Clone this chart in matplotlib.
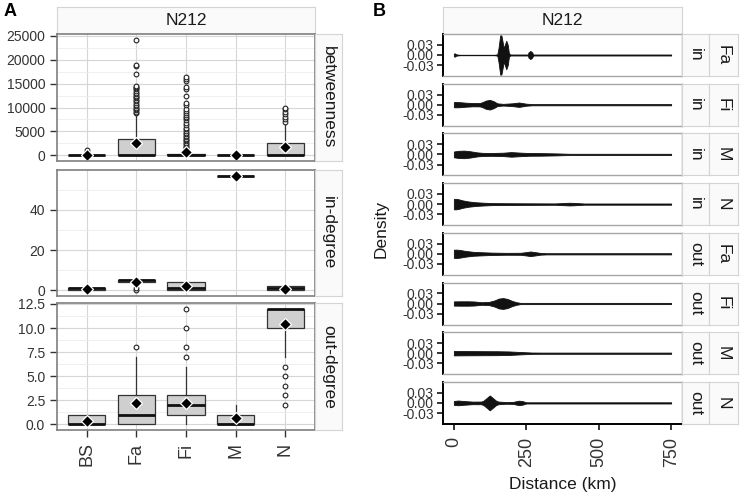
import numpy as np
import matplotlib
matplotlib.use("Agg")
import matplotlib.pyplot as plt

plt.rcParams["font.family"] = ["Liberation Sans", "DejaVu Sans"]

# ---- panel A: box plot summaries per group ----
groups = ["BS", "Fa", "Fi", "M", "N"]
metrics = ["betweenness", "in-degree", "out-degree"]

# betweenness: q1, median, q3, whisker low, whisker high, mean
btw_q1 = [0, 0, 0, 0, 0]
btw_med = [0, 0, 50, 0, 0]
btw_q3 = [50, 3450, 250, 0, 2650]
btw_lo = [0, 0, 0, 0, 0]
btw_hi = [100, 8600, 600, 0, 6800]
btw_mean = [150, 2650, 700, 0, 1700]
btw_out = [
    [700, 1100],
    [8900, 9100, 9400, 9600, 9900, 10300, 10600, 10900, 11300, 11600, 11900,
     12200, 12500, 12800, 13100, 13400, 13800, 14100, 14300, 14600, 17000,
     18700, 19000, 24200],
    [1000, 1250, 1500, 1750, 2000, 2300, 2600, 2900, 3200, 3500, 3800, 4100,
     4400, 4700, 5000, 5400, 5800, 6300, 6800, 7300, 7700, 8100, 8500, 8900,
     9300, 9700, 10600, 11000, 12400, 13900, 14200, 15500, 15900, 16300],
    [],
    [7000, 7500, 8050, 8600, 9100, 9600, 9900],
]

indeg_q1 = [0, 4, 0, 57, 0]
indeg_med = [1, 5, 1, 57, 1]
indeg_q3 = [1, 5, 4, 57, 2]
indeg_lo = [0, 4, 0, 57, 0]
indeg_hi = [1, 5, 4, 57, 2]
indeg_mean = [0.7, 4.2, 2.0, 57, 0.7]
indeg_out = [[], [0, 1], [], [], []]

outdeg_q1 = [0, 0, 1, 0, 10]
outdeg_med = [0, 1, 2, 0, 12]
outdeg_q3 = [1, 3, 3, 1, 12]
outdeg_lo = [0, 0, 0, 0, 7]
outdeg_hi = [1, 7, 6, 2, 12]
outdeg_mean = [0.38, 2.2, 2.25, 0.6, 10.45]
outdeg_out = [[], [8], [7, 8, 10, 12], [], [2, 3, 4, 5, 6]]

btw_ticks = [0, 5000, 10000, 15000, 20000, 25000]
indeg_ticks = [0, 20, 40]
outdeg_ticks = [0.0, 2.5, 5.0, 7.5, 10.0, 12.5]
outdeg_labels = ["0.0", "2.5", "5.0", "7.5", "10.0", "12.5"]

# ---- panel B: violin outlines (distance km, half width) ----
direction = ["in", "in", "in", "in", "out", "out", "out", "out"]
species = ["Fa", "Fi", "M", "N", "Fa", "Fi", "M", "N"]
viol_km = [
    [0, 3, 8, 20, 140, 150, 154, 160, 164, 168, 172, 176, 181, 186, 190, 195,
     255, 258, 264, 270, 274, 750],
    [0, 5, 20, 40, 65, 90, 100, 110, 124, 138, 150, 170, 200, 225, 250, 270, 750],
    [0, 15, 35, 55, 80, 100, 130, 170, 198, 230, 260, 300, 350, 400, 750],
    [0, 5, 15, 30, 50, 75, 100, 130, 200, 350, 385, 400, 415, 450, 750],
    [0, 8, 20, 40, 67, 100, 130, 180, 230, 250, 264, 280, 300, 320, 750],
    [0, 20, 50, 70, 95, 120, 140, 155, 170, 185, 200, 215, 230, 750],
    [0, 50, 100, 150, 190, 230, 270, 300, 750],
    [0, 15, 35, 65, 95, 103, 124, 145, 153, 180, 205, 215, 225, 238, 250, 750],
]
viol_w = [
    [0.004, 0.005, 0.002, 0.0007, 0.0007, 0.002, 0.02, 0.058, 0.058, 0.04,
     0.02, 0.03, 0.042, 0.03, 0.005, 0.0015, 0.0015, 0.008, 0.012, 0.008,
     0.0015, 0.0015],
    [0.0075, 0.0078, 0.0075, 0.006, 0.0048, 0.005, 0.008, 0.012, 0.0143, 0.01,
     0.004, 0.0025, 0.004, 0.0065, 0.003, 0.0018, 0.0018],
    [0.0085, 0.0105, 0.0112, 0.0095, 0.006, 0.0045, 0.0042, 0.005, 0.0068,
     0.0052, 0.004, 0.0038, 0.003, 0.0018, 0.0018],
    [0.015, 0.0157, 0.0145, 0.011, 0.0078, 0.0055, 0.0042, 0.003, 0.0025,
     0.002, 0.0035, 0.004, 0.0035, 0.0018, 0.0018],
    [0.012, 0.0124, 0.0115, 0.0085, 0.0058, 0.0045, 0.0035, 0.0028, 0.003,
     0.005, 0.0068, 0.005, 0.0025, 0.0018, 0.0018],
    [0.0062, 0.0065, 0.0065, 0.006, 0.0038, 0.0045, 0.009, 0.0145, 0.016,
     0.0135, 0.008, 0.004, 0.0018, 0.0018],
    [0.0065, 0.0062, 0.006, 0.0058, 0.0052, 0.0035, 0.002, 0.0018, 0.0018],
    [0.0058, 0.007, 0.0055, 0.0038, 0.004, 0.007, 0.022, 0.007, 0.004, 0.0025,
     0.003, 0.005, 0.0066, 0.005, 0.0018, 0.0018],
]
dist_ticks = [0, 250, 500, 750]
dens_ticks = [-0.03, 0.0, 0.03]
dens_labels = ["-0.03", "0.00", "0.03"]

W, H = 742, 496
fig = plt.figure(figsize=(W / 100, H / 100), dpi=100)

strip_bg = "#fafafa"
strip_edge = "#d4d4d4"
dark = "#333333"


def rect(x0, y0, x1, y1):
    # pixel box (top-left origin) -> figure fraction
    return [x0 / W, 1 - y1 / H, (x1 - x0) / W, (y1 - y0) / H]


def strip(x0, y0, x1, y1, text, rot=0):
    ax = fig.add_axes(rect(x0, y0, x1, y1))
    ax.set_facecolor(strip_bg)
    ax.set_xticks([])
    ax.set_yticks([])
    for s in ax.spines.values():
        s.set_color(strip_edge)
        s.set_linewidth(0.8)
    ax.text(0.5, 0.5, text, rotation=rot, ha="center", va="center",
            transform=ax.transAxes, fontsize=12.5, color="#1a1a1a")
    return ax


# ---------------- panel A ----------------
a_rows = [(34, 161), (170, 296), (303, 430)]
a_stats = [
    (btw_q1, btw_med, btw_q3, btw_lo, btw_hi, btw_mean, btw_out),
    (indeg_q1, indeg_med, indeg_q3, indeg_lo, indeg_hi, indeg_mean, indeg_out),
    (outdeg_q1, outdeg_med, outdeg_q3, outdeg_lo, outdeg_hi, outdeg_mean, outdeg_out),
]
a_ylims = [(-1210, 25410), (-2.85, 59.85), (-0.6, 12.6)]
a_ticks = [btw_ticks, indeg_ticks, outdeg_ticks]
a_ticklabels = [[str(t) for t in btw_ticks], [str(t) for t in indeg_ticks], outdeg_labels]

strip(57, 7, 315, 34, "N212")
pos = np.arange(1, len(groups) + 1)
for k, (top, bot) in enumerate(a_rows):
    ax = fig.add_axes(rect(57, top, 315, bot))
    q1, med, q3, lo, hi, mean, out = a_stats[k]
    stats = []
    for i in range(len(groups)):
        stats.append(dict(q1=q1[i], med=med[i], q3=q3[i], whislo=lo[i],
                          whishi=hi[i], mean=mean[i], fliers=np.array(out[i])))
    ax.bxp(stats, positions=pos, widths=0.75, patch_artist=True,
           showmeans=True, showcaps=False,
           boxprops=dict(facecolor="#cfcfcf", edgecolor=dark, linewidth=0.9),
           medianprops=dict(color="#111111", linewidth=2.0),
           whiskerprops=dict(color=dark, linewidth=0.9),
           flierprops=dict(marker="o", markersize=3.4, markerfacecolor="white",
                           markeredgecolor="#222222", markeredgewidth=0.8),
           meanprops=dict(marker="D", markersize=6.5, markerfacecolor="black",
                          markeredgecolor="white", markeredgewidth=0.9))
    ax.set_xlim(0.4, 5.6)
    ax.set_yticks(a_ticks[k])
    ax.set_yticklabels(a_ticklabels[k])
    t = a_ticks[k]
    step = t[1] - t[0]
    ax.set_yticks([v + step / 2 for v in [t[0] - step] + t], minor=True)
    ax.set_ylim(*a_ylims[k])
    ax.set_axisbelow(True)
    ax.grid(which="major", color="#d6d6d6", linewidth=0.8)
    ax.grid(which="minor", axis="y", color="#ececec", linewidth=0.6)
    ax.tick_params(axis="y", which="major", labelsize=10, length=5, width=1,
                   color=dark, labelcolor=dark)
    ax.tick_params(which="minor", length=0)
    for s in ax.spines.values():
        s.set_color("#7f7f7f")
        s.set_linewidth(1.2)
    ax.set_xticks(pos)
    if k == len(a_rows) - 1:
        ax.set_xticklabels(groups, rotation=90)
        ax.tick_params(axis="x", labelsize=13, length=5, width=1, pad=4,
                       color=dark, labelcolor=dark)
    else:
        ax.tick_params(axis="x", length=0, labelbottom=False)
    strip(315, top, 342, bot, metrics[k], rot=-90)

# ---------------- panel B ----------------
strip(443, 7, 682, 34, "N212")
for i in range(len(species)):
    top = 34 + 49.7 * i
    bot = top + 42
    ax = fig.add_axes(rect(443, top, 682, bot))
    km = viol_km[i]
    w = np.array(viol_w[i])
    ax.fill_between(km, -w, w, facecolor="#111111", edgecolor="#111111",
                    linewidth=0.6)
    ax.set_xlim(-37.5, 787.5)
    ax.set_ylim(-0.062, 0.062)
    ax.set_yticks(dens_ticks)
    ax.set_yticklabels(dens_labels)
    ax.tick_params(axis="y", labelsize=10, length=4.5, width=1.1,
                   color="black", labelcolor=dark, pad=2)
    for name, s in ax.spines.items():
        s.set_color("#a6a6a6")
        s.set_linewidth(1.0)
    ax.spines["left"].set_color("black")
    ax.spines["left"].set_linewidth(1.4)
    ax.set_xticks(dist_ticks)
    if i == len(species) - 1:
        ax.spines["bottom"].set_color("black")
        ax.spines["bottom"].set_linewidth(1.4)
        ax.set_xticklabels([str(d) for d in dist_ticks], rotation=90)
        ax.tick_params(axis="x", labelsize=13, length=4.5, width=1.1, pad=5,
                       color="black", labelcolor=dark)
    else:
        ax.tick_params(axis="x", length=0, labelbottom=False)
    strip(682, top, 709, bot, direction[i], rot=-90)
    strip(709, top, 738, bot, species[i], rot=-90)

fig.text(4 / W, 1 - 12 / H, "A", fontsize=13, fontweight="bold", va="center")
fig.text(373 / W, 1 - 12 / H, "B", fontsize=13, fontweight="bold", va="center")
fig.text(381 / W, 1 - 229 / H, "Density", rotation=90, fontsize=12.5,
         ha="center", va="center", color="#1a1a1a")
fig.text(563 / W, 1 - 485 / H, "Distance (km)", fontsize=12.5,
         ha="center", va="center", color="#1a1a1a")

fig.savefig("out.png", dpi=100)
